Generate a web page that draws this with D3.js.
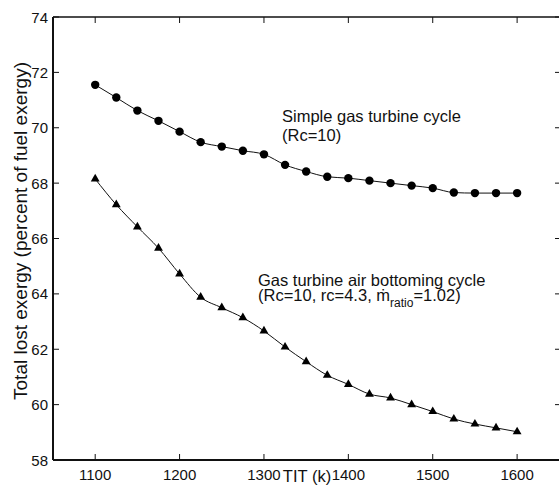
<!DOCTYPE html>
<html>
<head>
<meta charset="utf-8">
<script src="https://cdn.jsdelivr.net/npm/d3@7"></script>
<style>
    body { margin: 0; background: #fff; }
    svg { display: block; font-family: "Liberation Sans", Arial, sans-serif; }
</style>
</head>
<body>
<svg id="Chart"></svg>
<script>
// TIT (k)
let tit = [1100, 1125, 1150, 1175, 1200, 1225, 1250, 1275, 1300, 1325, 1350,
           1375, 1400, 1425, 1450, 1475, 1500, 1525, 1550, 1575, 1600];

// simple gas turbine cycle (Rc=10)
let simpleCycle = [71.55, 71.09, 70.62, 70.25, 69.86, 69.48, 69.32, 69.17, 69.04, 68.66, 68.42,
                   68.23, 68.18, 68.09, 68.00, 67.91, 67.82, 67.66, 67.64, 67.64, 67.64];

// gas turbine air bottoming cycle
let airBottoming = [68.15, 67.22, 66.42, 65.65, 64.72, 63.88, 63.50, 63.14, 62.66, 62.08, 61.55,
                    61.06, 60.73, 60.38, 60.24, 60.00, 59.75, 59.48, 59.30, 59.16, 59.02];

let xTicks = [1100, 1200, 1300, 1400, 1500, 1600];
let yTicks = [58, 60, 62, 64, 66, 68, 70, 72, 74];

function getConfig() {
    let width = 559;
    let height = 486;
    let margin = { top: 17, bottom: 26, left: 53, right: -2 };
    let container = d3.select("#Chart")
        .attr("width", width)
        .attr("height", height);
    return { width, height, margin, container };
}

function getScales(config) {
    let { width, height, margin } = config;
    let xScale = d3.scaleLinear()
        .domain([1050, 1652])
        .range([margin.left, width - margin.right]);
    let yScale = d3.scaleLinear()
        .domain([58, 74])
        .range([height - margin.bottom, margin.top]);
    return { xScale, yScale };
}

function drawFrame(scales, config) {
    let { xScale, yScale } = scales;
    let { container } = config;
    let [x0, x1] = xScale.range();
    let [y0, y1] = yScale.range();
    let tickLen = 6;
    let ink = "#111";

    // ticks pointing inwards on all four sides
    let frame = container.append("g");
    frame.selectAll(".tb").data(xTicks).enter().append("line")
        .attr("x1", d => xScale(d)).attr("x2", d => xScale(d))
        .attr("y1", y0).attr("y2", y0 - tickLen)
        .attr("stroke", ink).attr("stroke-width", 1);
    frame.selectAll(".tt").data(xTicks).enter().append("line")
        .attr("x1", d => xScale(d)).attr("x2", d => xScale(d))
        .attr("y1", y1).attr("y2", y1 + tickLen)
        .attr("stroke", ink).attr("stroke-width", 1);
    frame.selectAll(".tl").data(yTicks).enter().append("line")
        .attr("x1", x0).attr("x2", x0 + tickLen)
        .attr("y1", d => yScale(d)).attr("y2", d => yScale(d))
        .attr("stroke", ink).attr("stroke-width", 1);
    frame.selectAll(".tr").data(yTicks).enter().append("line")
        .attr("x1", x1).attr("x2", x1 - tickLen)
        .attr("y1", d => yScale(d)).attr("y2", d => yScale(d))
        .attr("stroke", ink).attr("stroke-width", 1);

    // the right border falls just outside the picture, so only three sides are drawn
    frame.append("line").attr("x1", x0).attr("x2", x1).attr("y1", y1).attr("y2", y1)
        .attr("stroke", ink).attr("stroke-width", 1.5);
    frame.append("line").attr("x1", x0).attr("x2", x1).attr("y1", y0).attr("y2", y0)
        .attr("stroke", ink).attr("stroke-width", 2);
    frame.append("line").attr("x1", x0).attr("x2", x0).attr("y1", y1).attr("y2", y0)
        .attr("stroke", ink).attr("stroke-width", 2);

    // tick labels
    container.selectAll(".xl").data(xTicks).enter().append("text")
        .attr("x", d => xScale(d))
        .attr("y", y0 + 20)
        .attr("text-anchor", "middle")
        .attr("font-size", 15)
        .attr("fill", "#111")
        .text(d => d);
    container.selectAll(".yl").data(yTicks).enter().append("text")
        .attr("x", x0 - 5)
        .attr("y", d => yScale(d) + 5.5)
        .attr("text-anchor", "end")
        .attr("font-size", 15)
        .attr("fill", "#111")
        .text(d => d);

    // axis titles
    container.append("text")
        .attr("x", 307).attr("y", 482)
        .attr("text-anchor", "middle")
        .attr("font-size", 16.5)
        .attr("fill", "#111")
        .text("TIT (k)");
    container.append("text")
        .attr("transform", "translate(27,231) rotate(-90)")
        .attr("text-anchor", "middle")
        .attr("font-size", 19)
        .attr("fill", "#111")
        .text("Total lost exergy (percent of fuel exergy)");
}

function drawSeries(scales, config) {
    let { xScale, yScale } = scales;
    let { container } = config;
    let line = d3.line()
        .x(d => xScale(d[0]))
        .y(d => yScale(d[1]))
        .curve(d3.curveMonotoneX);

    let simple = tit.map((t, i) => [t, simpleCycle[i]]);
    let bottoming = tit.map((t, i) => [t, airBottoming[i]]);

    container.append("path").datum(simple)
        .attr("d", line).attr("fill", "none")
        .attr("stroke", "#111").attr("stroke-width", 1);
    container.append("path").datum(bottoming)
        .attr("d", line).attr("fill", "none")
        .attr("stroke", "#111").attr("stroke-width", 1);

    container.selectAll(".dot").data(simple).enter().append("circle")
        .attr("cx", d => xScale(d[0]))
        .attr("cy", d => yScale(d[1]))
        .attr("r", 4.2)
        .attr("fill", "#000");

    let tri = d3.symbol().type(d3.symbolTriangle).size(34);
    container.selectAll(".tri").data(bottoming).enter().append("path")
        .attr("d", tri)
        .attr("transform", d => `translate(${xScale(d[0])},${yScale(d[1])})`)
        .attr("fill", "#000");
}

function drawNotes(config) {
    let { container } = config;
    let note1 = container.append("text")
        .attr("font-size", 16.5).attr("fill", "#111");
    note1.append("tspan").attr("x", 282).attr("y", 122).text("Simple gas turbine cycle");
    note1.append("tspan").attr("x", 282).attr("y", 141).text("(Rc=10)");

    let note2 = container.append("text")
        .attr("font-size", 16.5).attr("fill", "#111");
    note2.append("tspan").attr("x", 258).attr("y", 286).text("Gas turbine air bottoming cycle");
    let l2 = note2.append("tspan").attr("x", 258).attr("y", 301);
    l2.text("(Rc=10, rc=4.3, \u1E41");
    note2.append("tspan").attr("dy", 6).attr("font-size", 12).text("ratio");
    note2.append("tspan").attr("dy", -6).text("=1.02)");
}

function drawChart() {
    let config = getConfig();
    let scales = getScales(config);
    drawSeries(scales, config);
    drawFrame(scales, config);
    drawNotes(config);
}

drawChart();
</script>
</body>
</html>
